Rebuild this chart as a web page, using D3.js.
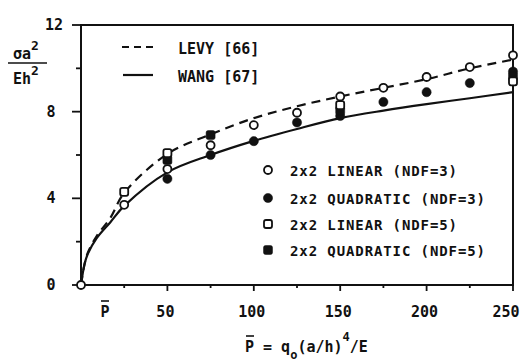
<!DOCTYPE html>
<html>
<head>
<meta charset="utf-8">
<script src="https://cdn.jsdelivr.net/npm/d3@7"></script>
<style>
  html, body { margin: 0; padding: 0; background: #fff; }
  text { font-family: "DejaVu Sans Mono", monospace; font-weight: bold; fill: #111; }
</style>
</head>
<body>
<div id="chart"></div>
<script>
// curves
const levyP = [0, 2, 4, 9, 17, 25, 50, 75, 100, 125, 150, 175, 200, 225, 250];
const levyS = [0, 0.95, 1.5, 2.25, 3.1, 4.25, 6.05, 6.95, 7.7, 8.25, 8.7, 9.1, 9.5, 10.0, 10.4];
const wangP = [0, 2, 4, 9, 17, 25, 50, 75, 100, 125, 150, 175, 200, 225, 250];
const wangS = [0, 0.95, 1.45, 2.15, 2.9, 3.65, 5.2, 6.0, 6.65, 7.2, 7.7, 8.05, 8.35, 8.62, 8.9];

// finite element results
const linear3P = [0, 25, 50, 75, 100, 125, 150, 175, 200, 225, 250];
const linear3S = [0, 3.7, 5.35, 6.45, 7.38, 7.95, 8.7, 9.1, 9.6, 10.06, 10.6];
const quad3P = [50, 75, 100, 125, 150, 175, 200, 225, 250];
const quad3S = [4.9, 6.0, 6.64, 7.5, 7.8, 8.45, 8.9, 9.32, 9.85];
const linear5P = [25, 50, 150, 250];
const linear5S = [4.3, 6.09, 8.3, 9.4];
const quad5P = [50, 75, 150, 250];
const quad5S = [5.77, 6.92, 8.05, 9.62];

const xLabels = [50, 100, 150, 200, 250];
const xMinor = [25, 75, 125, 175, 225];
const yLabels = [0, 4, 8, 12];
const yMinor = [2, 6, 10];

const W = 523, H = 364;
const svg = d3.select('#chart').append('svg')
  .attr('width', W).attr('height', H);

const x = d3.scaleLinear().domain([0, 250]).range([81, 513]);
const y = d3.scaleLinear().domain([0, 12]).range([285, 25]);

const ink = '#111';

// frame
svg.append('rect')
  .attr('x', x(0)).attr('y', y(12))
  .attr('width', x(250) - x(0)).attr('height', y(0) - y(12))
  .attr('fill', 'none').attr('stroke', ink).attr('stroke-width', 2);

// y ticks
svg.selectAll('.ytick').data(yLabels).enter().append('line')
  .attr('x1', x(0) - 9).attr('x2', x(0))
  .attr('y1', d => y(d)).attr('y2', d => y(d))
  .attr('stroke', ink).attr('stroke-width', 1.8);
svg.selectAll('.yminor').data(yMinor).enter().append('line')
  .attr('x1', x(0) - 5).attr('x2', x(0))
  .attr('y1', d => y(d)).attr('y2', d => y(d))
  .attr('stroke', ink).attr('stroke-width', 1.8);
svg.selectAll('.ylab').data(yLabels).enter().append('text')
  .attr('x', d => d === 12 ? 54 : 51)
  .attr('y', d => y(d) + 5)
  .attr('text-anchor', 'middle')
  .attr('font-size', 15)
  .text(d => d);

// x ticks
svg.selectAll('.xtick').data(xLabels).enter().append('line')
  .attr('x1', d => x(d)).attr('x2', d => x(d))
  .attr('y1', y(0)).attr('y2', y(0) + 6)
  .attr('stroke', ink).attr('stroke-width', 1.8);
svg.selectAll('.xminor').data(xMinor).enter().append('line')
  .attr('x1', d => x(d)).attr('x2', d => x(d))
  .attr('y1', y(0)).attr('y2', y(0) + 3)
  .attr('stroke', ink).attr('stroke-width', 1.8);
svg.selectAll('.xlab').data(xLabels).enter().append('text')
  .attr('x', d => d === 250 ? x(d) - 7 : x(d) - 2)
  .attr('y', 317)
  .attr('text-anchor', 'middle')
  .attr('font-size', 15)
  .text(d => d);

// P-bar marker under the axis
const pb = svg.append('g');
pb.append('text').attr('x', 105).attr('y', 317)
  .attr('text-anchor', 'middle').attr('font-size', 15).text('P');
pb.append('line').attr('x1', 101).attr('x2', 109).attr('y1', 301).attr('y2', 301)
  .attr('stroke', ink).attr('stroke-width', 1.6);

// axis title
const t = svg.append('text').attr('x', 245).attr('y', 352).attr('font-size', 15);
t.append('tspan').text('P = q');
t.append('tspan').attr('dy', 7).attr('font-size', 12).text('o');
t.append('tspan').attr('dy', -7).text('(a/h)');
t.append('tspan').attr('dy', -11).attr('font-size', 12).text('4');
t.append('tspan').attr('dy', 11).text('/E');
svg.append('line').attr('x1', 246).attr('x2', 254).attr('y1', 336).attr('y2', 336)
  .attr('stroke', ink).attr('stroke-width', 1.6);

// y title as a fraction
const num = svg.append('text').attr('x', 26).attr('y', 59)
  .attr('text-anchor', 'middle').attr('font-size', 15);
num.append('tspan').text('σa');
num.append('tspan').attr('dy', -9).attr('font-size', 13).text('2');
svg.append('line').attr('x1', 8).attr('x2', 47).attr('y1', 63).attr('y2', 63)
  .attr('stroke', ink).attr('stroke-width', 1.5);
const den = svg.append('text').attr('x', 26).attr('y', 84)
  .attr('text-anchor', 'middle').attr('font-size', 15);
den.append('tspan').text('Eh');
den.append('tspan').attr('dy', -9).attr('font-size', 13).text('2');

// curves
const line = d3.line().x(d => x(d[0])).y(d => y(d[1])).curve(d3.curveCatmullRom.alpha(0.5));
svg.append('path')
  .datum(levyP.map((p, i) => [p, levyS[i]]))
  .attr('d', line).attr('fill', 'none')
  .attr('stroke', ink).attr('stroke-width', 2.2)
  .attr('stroke-dasharray', '9,6');
svg.append('path')
  .datum(wangP.map((p, i) => [p, wangS[i]]))
  .attr('d', line).attr('fill', 'none')
  .attr('stroke', ink).attr('stroke-width', 2.2);

// markers
function drawMarkers(ps, ss, kind, g) {
  const data = ps.map((p, i) => [x(p), y(ss[i])]);
  if (kind === 'oc' || kind === 'fc') {
    g.selectAll(null).data(data).enter().append('circle')
      .attr('cx', d => d[0]).attr('cy', d => d[1])
      .attr('r', kind === 'oc' ? 4 : 4.6)
      .attr('fill', kind === 'oc' ? '#fff' : ink)
      .attr('stroke', ink).attr('stroke-width', kind === 'oc' ? 1.8 : 0.5);
  } else {
    const s = kind === 'os' ? 8 : 9;
    g.selectAll(null).data(data).enter().append('rect')
      .attr('x', d => d[0] - s / 2).attr('y', d => d[1] - s / 2)
      .attr('width', s).attr('height', s).attr('rx', 2)
      .attr('fill', kind === 'os' ? '#fff' : ink)
      .attr('stroke', ink).attr('stroke-width', kind === 'os' ? 1.8 : 0.5);
  }
}
const mg = svg.append('g');
drawMarkers(quad3P, quad3S, 'fc', mg);
drawMarkers(quad5P, quad5S, 'fs', mg);
drawMarkers(linear5P, linear5S, 'os', mg);
drawMarkers(linear3P, linear3S, 'oc', mg);

// legend: curves
svg.append('line').attr('x1', 122).attr('x2', 154).attr('y1', 47).attr('y2', 47)
  .attr('stroke', ink).attr('stroke-width', 2.2).attr('stroke-dasharray', '7,5');
svg.append('text').attr('x', 178).attr('y', 54).attr('font-size', 15).text('LEVY [66]');
svg.append('line').attr('x1', 123).attr('x2', 153).attr('y1', 75).attr('y2', 75)
  .attr('stroke', ink).attr('stroke-width', 2.2);
svg.append('text').attr('x', 178).attr('y', 82).attr('font-size', 15).text('WANG [67]');

// legend: markers
const legendItems = [
  { kind: 'oc', label: '2x2 LINEAR (NDF=3)' },
  { kind: 'fc', label: '2x2 QUADRATIC (NDF=3)' },
  { kind: 'os', label: '2x2 LINEAR (NDF=5)' },
  { kind: 'fs', label: '2x2 QUADRATIC (NDF=5)' }
];
const legY = [170, 198, 224, 250];
legendItems.forEach((it, i) => {
  const lg = svg.append('g');
  drawMarkers([x.invert(268)], [y.invert(legY[i])], it.kind, lg);
  lg.append('text').attr('x', 290).attr('y', legY[i] + 6)
    .attr('font-size', 14).attr('letter-spacing', 0.9).text(it.label);
});
</script>
</body>
</html>
